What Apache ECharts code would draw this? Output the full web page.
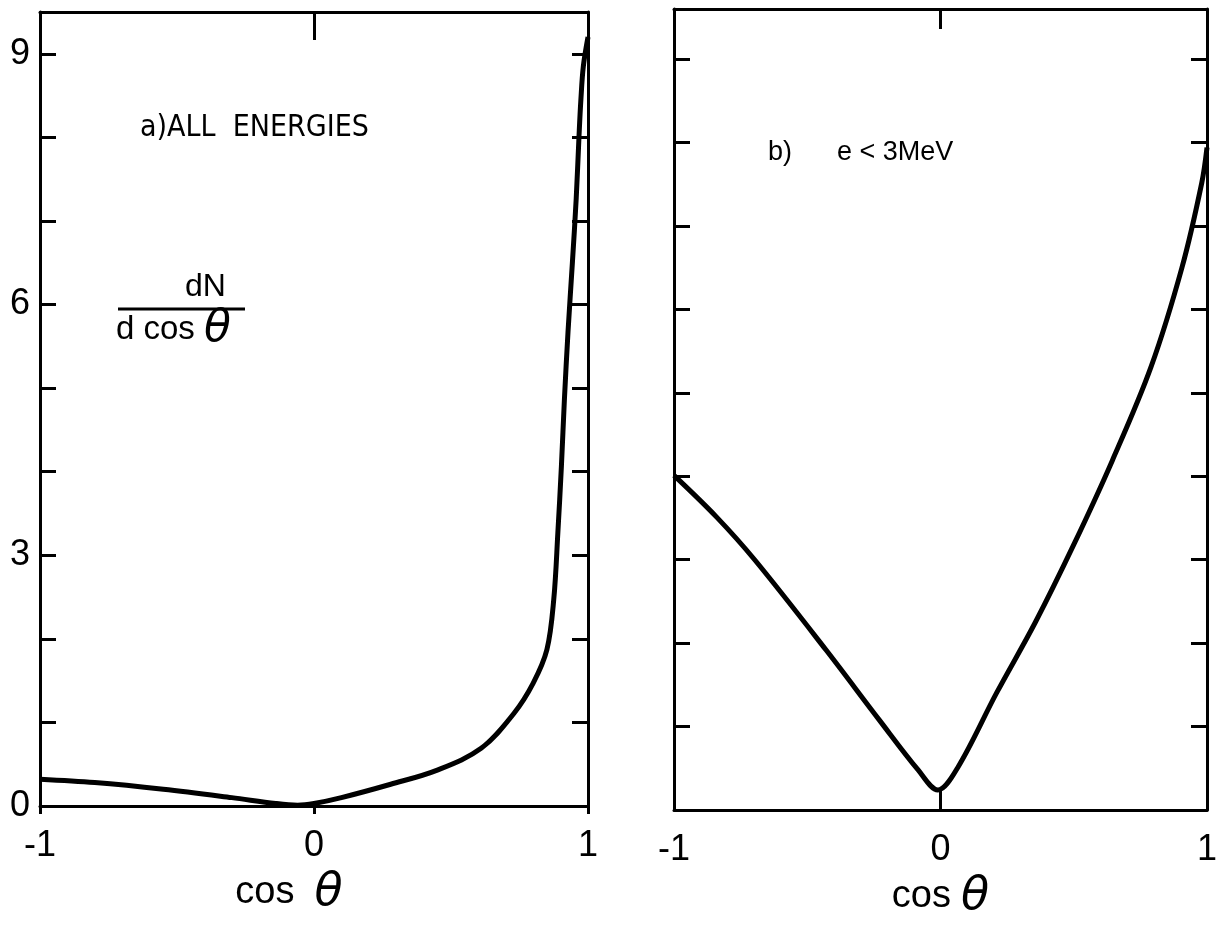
<!DOCTYPE html>
<html>
<head>
<meta charset="utf-8">
<script src="https://cdn.jsdelivr.net/npm/echarts@6/dist/echarts.min.js"></script>
<style>
html,body{margin:0;padding:0;background:#fff;}
#c{width:1220px;height:925px;}
</style>
</head>
<body>
<div id="c"></div>
<script>
// Panel a) all energies
var cosA = [-1, -0.8, -0.55, -0.3, -0.14, -0.06, 0.0, 0.1, 0.28, 0.45, 0.61, 0.73, 0.80, 0.85, 0.875, 0.89, 0.903, 0.914, 0.927, 0.943, 0.957, 0.967, 0.974, 0.983, 1.0];
var dNA  = [0.32, 0.28, 0.20, 0.10, 0.03, 0.01, 0.03, 0.10, 0.26, 0.43, 0.69, 1.11, 1.47, 1.87, 2.47, 3.27, 4.07, 4.87, 5.67, 6.50, 7.27, 8.00, 8.45, 8.85, 9.20];
// Panel b) e < 3 MeV
var cosB = [-1, -0.84, -0.695, -0.43, -0.23, -0.084, -0.01, 0.065, 0.21, 0.356, 0.50, 0.645, 0.79, 0.906, 0.98, 1.0];
var dNB  = [4.01, 3.51, 2.99, 1.92, 1.08, 0.48, 0.24, 0.51, 1.40, 2.25, 3.18, 4.19, 5.31, 6.50, 7.51, 7.94];
var xTicks = [-1, 0, 1];
var yLabelsA = [0, 3, 6, 9];
var labelA = 'a)ALL  ENERGIES';
var labelB = 'b)      e < 3MeV';

function pairs(xs, ys){ return xs.map(function(x,i){ return [x, ys[i]]; }); }

var FONT = 'Liberation Sans';
var NARROW = '"Liberation Sans Narrow", "DejaVu Sans Condensed", "Liberation Sans"';
function axisLine(){ return {show:true, onZero:false, lineStyle:{color:'#000', width:3}}; }

function xBottom(gi, tickLen, inside, gap, padRight){
  return {
    type:'value', gridIndex:gi, position:'bottom', min:-1, max:1, interval:1,
    axisLine:axisLine(),
    axisTick:{show:true, inside:inside, length:tickLen, lineStyle:{color:'#000', width:3}},
    axisLabel:{show:true, margin:22, color:'#000', fontFamily:FONT, fontSize:36,
      formatter:function(v){ return xTicks.indexOf(v) >= 0 ? String(v) : ''; }},
    splitLine:{show:false},
    name:'{c|cos}' + gap + '{t|θ}', nameLocation:'middle', nameGap:64,
    nameTextStyle:{padding:[0, padRight, 0, 0], rich:{
      c:{fontFamily:FONT, fontSize:38, color:'#000'},
      t:{fontFamily:'DejaVu Sans', fontStyle:'italic', fontSize:46, color:'#000'}
    }}
  };
}
function xTop(gi, tickLen){
  return {
    type:'value', gridIndex:gi, position:'top', min:-1, max:1, interval:1,
    axisLine:axisLine(),
    axisTick:{show:true, inside:true, length:tickLen, lineStyle:{color:'#000', width:3}},
    axisLabel:{show:false}, splitLine:{show:false}
  };
}
function yLeft(gi, max, showLabels){
  return {
    type:'value', gridIndex:gi, position:'left', min:0, max:max, interval:1,
    axisLine:axisLine(),
    axisTick:{show:true, inside:true, length:16, lineStyle:{color:'#000', width:3}},
    axisLabel:{show:showLabels, margin:10, color:'#000', fontFamily:FONT, fontSize:36,
      showMaxLabel:false,
      formatter:function(v){ return yLabelsA.indexOf(v) >= 0 ? String(v) : ''; }},
    splitLine:{show:false}
  };
}
function yRight(gi, max){
  return {
    type:'value', gridIndex:gi, position:'right', min:0, max:max, interval:1,
    axisLine:axisLine(),
    axisTick:{show:true, inside:true, length:16, lineStyle:{color:'#000', width:3}},
    axisLabel:{show:false}, splitLine:{show:false}
  };
}

var chart = echarts.init(document.getElementById('c'), null, {renderer:'canvas'});
chart.setOption({
  backgroundColor:'#fff',
  animation:false,
  grid:[
    {left:40, right:632, top:12, bottom:119},
    {left:674, right:7, top:9, bottom:115}
  ],
  xAxis:[ xBottom(0, 8, false, '      ', 50), xTop(0, 28), xBottom(1, 20, true, '   ', 0), xTop(1, 20) ],
  yAxis:[ yLeft(0, 9.5, true), yRight(0, 9.5), yLeft(1, 9.6, false), yRight(1, 9.6) ],
  series:[
    {type:'line', xAxisIndex:0, yAxisIndex:0, data:pairs(cosA, dNA), smooth:0.35,
     showSymbol:false, lineStyle:{color:'#000', width:5}, clip:true},
    {type:'line', xAxisIndex:2, yAxisIndex:2, data:pairs(cosB, dNB), smooth:0.35,
     showSymbol:false, lineStyle:{color:'#000', width:5}, clip:true}
  ],
  graphic:[
    {type:'text', left:140, top:113, style:{text:labelA, fontFamily:NARROW, fontSize:30, fill:'#000'}},
    {type:'text', left:768, top:139, style:{text:labelB, fontFamily:FONT, fontSize:27, fill:'#000'}},
    {type:'text', left:185, top:271, style:{text:'dN', fontFamily:FONT, fontSize:32, fill:'#000'}},
    {type:'line', shape:{x1:118, y1:309, x2:245, y2:309}, style:{stroke:'#000', lineWidth:3}},
    {type:'text', left:116, top:308, style:{
      text:'{a|d cos }{t|θ}',
      rich:{a:{fontFamily:FONT, fontSize:33, fill:'#000'}, t:{fontFamily:'DejaVu Sans', fontStyle:'italic', fontSize:44, fill:'#000'}}
    }}
  ]
});
</script>
</body>
</html>
